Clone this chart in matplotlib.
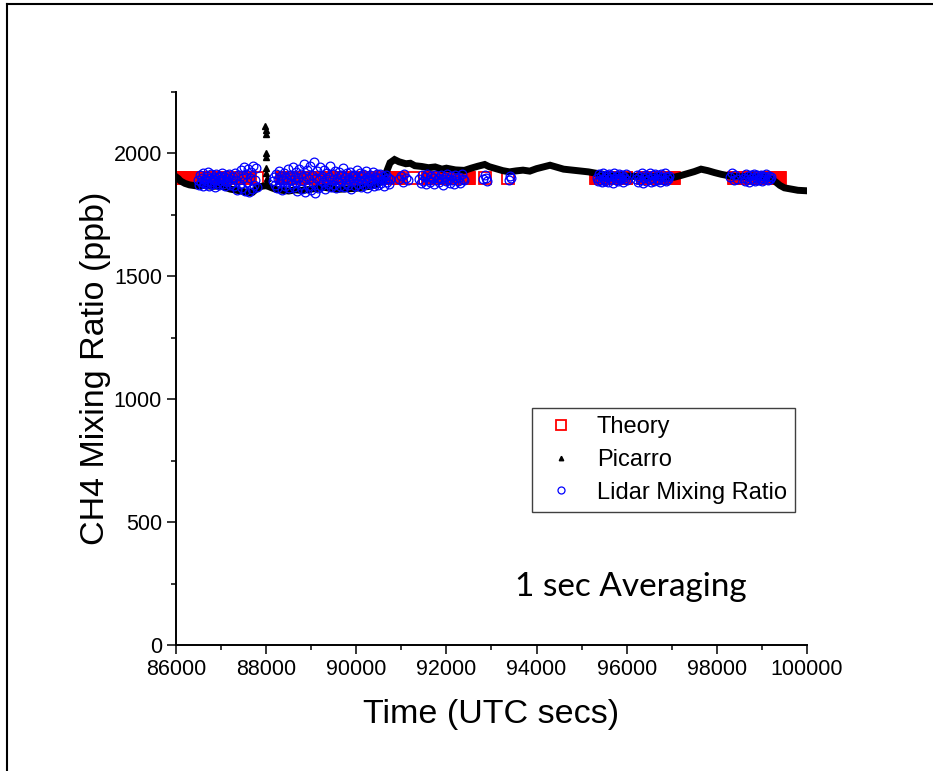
import numpy as np
import matplotlib
matplotlib.use('Agg')
from matplotlib import pyplot as plt
from matplotlib.lines import Line2D
from matplotlib.ticker import MultipleLocator

plt.rcParams['font.family'] = ['Liberation Sans', 'DejaVu Sans']

# Theory: constant mixing ratio, segments of 1 s averaged samples (start, end of each run)
theory_segments = [(86100, 87650), (87800, 87800), (88350, 90950), (91250, 91250),
                   (91600, 92500), (92850, 92850), (93370, 93370), (95330, 95990),
                   (96360, 97050), (98380, 99400)]
theory_value = 1900
theory_step = 15

# Picarro in-situ trace
picarro_t = [86000, 86050, 86100, 86200, 86300, 86450, 86600, 86800, 87000, 87100,
             87200, 87350, 87500, 87600, 87700, 87800, 87900, 88000, 88100, 88200,
             88350, 88500, 88650, 88800, 89000, 89150, 89300, 89450, 89600, 89800,
             90000, 90150, 90300, 90450, 90550, 90650, 90750, 90850, 90950, 91100,
             91200, 91300, 91450, 91600, 91750, 91900, 92000, 92200, 92400, 92550,
             92700, 92850, 92950, 93100, 93250, 93400, 93550, 93700, 93850, 94000,
             94150, 94300, 94450, 94600, 94800, 95000, 95150, 95300, 95450, 95600,
             95800, 96000, 96250, 96500, 96700, 96900, 97050, 97200, 97350, 97500,
             97650, 97800, 97950, 98100, 98300, 98500, 98800, 99000, 99200, 99300,
             99400, 99500, 99650, 99800, 100000]
picarro_v = [1905, 1898, 1888, 1878, 1872, 1868, 1870, 1866, 1868, 1862,
             1855, 1850, 1845, 1840, 1842, 1858, 1866, 1870, 1862, 1855,
             1850, 1847, 1852, 1849, 1855, 1858, 1862, 1857, 1854, 1856,
             1858, 1863, 1866, 1872, 1885, 1915, 1962, 1975, 1966, 1958,
             1960, 1950, 1947, 1942, 1945, 1936, 1940, 1933, 1931, 1940,
             1948, 1955, 1946, 1938, 1930, 1925, 1929, 1932, 1928, 1938,
             1945, 1952, 1944, 1936, 1932, 1928, 1925, 1920, 1916, 1912,
             1910, 1908, 1906, 1904, 1908, 1905, 1903, 1910, 1918, 1926,
             1936, 1930, 1922, 1915, 1908, 1905, 1908, 1903, 1898, 1885,
             1870, 1860, 1855, 1850, 1848]
# spike near 88000 s
spike_t = [87985, 87990, 87995, 88000, 88000, 88005, 88005, 88010, 88010, 88015]
spike_v = [2110, 2095, 2080, 2000, 1985, 1940, 1920, 1900, 1885, 1872]

# Lidar mixing ratio clusters: (start, end) times and values
lidar_clusters = [
    ((86500, 87200), [1893, 1871, 1912, 1885, 1902, 1866, 1919, 1880, 1897, 1874, 1908, 1889, 1924, 1869,
                      1900, 1883, 1915, 1877, 1895, 1906, 1862, 1891, 1918, 1879, 1903, 1870, 1910, 1887,
                      1898, 1921, 1875, 1893, 1905, 1868, 1914, 1882, 1899, 1886, 1916, 1873]),
    ((87250, 87800), [1880, 1905, 1868, 1920, 1893, 1852, 1911, 1876, 1932, 1860, 1899, 1945, 1848, 1915,
                      1884, 1938, 1843, 1902, 1926, 1857, 1950, 1871, 1890, 1942, 1865]),
    ((88150, 90750), [1886, 1903, 1872, 1915, 1860, 1897, 1928, 1878, 1909, 1851, 1893, 1920, 1867, 1901,
                      1884, 1935, 1858, 1912, 1890, 1874, 1946, 1863, 1905, 1882, 1925, 1847, 1899, 1938,
                      1870, 1918, 1856, 1888, 1958, 1843, 1907, 1931, 1866, 1896, 1950, 1852, 1913, 1880,
                      1965, 1840, 1902, 1927, 1861, 1891, 1944, 1869, 1910, 1885, 1933, 1855, 1898, 1922,
                      1876, 1906, 1948, 1864, 1892, 1917, 1873, 1930, 1859, 1900, 1883, 1924, 1868, 1911,
                      1889, 1940, 1862, 1904, 1879, 1919, 1871, 1896, 1926, 1857, 1909, 1887, 1914, 1866,
                      1901, 1934, 1875, 1893, 1921, 1863, 1907, 1882, 1916, 1870, 1898, 1928, 1860, 1903,
                      1886, 1912, 1874, 1895, 1923, 1867, 1905, 1881, 1918, 1872, 1900, 1915, 1878, 1892,
                      1908, 1869, 1897, 1911, 1884, 1902, 1876, 1894]),
    ((90950, 91150), [1895, 1910, 1885, 1915, 1900, 1890]),
    ((91400, 92400), [1896, 1880, 1912, 1889, 1905, 1874, 1917, 1893, 1884, 1908, 1899, 1877, 1914, 1890,
                      1902, 1883, 1911, 1895, 1872, 1906, 1888, 1918, 1897, 1881, 1909, 1892, 1876, 1913,
                      1900, 1886, 1904, 1879, 1915, 1894, 1890]),
    ((92820, 92900), [1895, 1912, 1900, 1888]),
    ((93380, 93440), [1893, 1908, 1900]),
    ((95350, 96000), [1901, 1886, 1917, 1893, 1908, 1882, 1920, 1897, 1889, 1912, 1903, 1884, 1915, 1895,
                      1907, 1881, 1922, 1899, 1890, 1910, 1887, 1918, 1902, 1894, 1913, 1885, 1905, 1898,
                      1916, 1891]),
    ((96200, 96950), [1897, 1912, 1885, 1906, 1893, 1919, 1881, 1902, 1914, 1889, 1908, 1895, 1921, 1883,
                      1900, 1911, 1887, 1917, 1898, 1890, 1909, 1884, 1915, 1903, 1892, 1920, 1886, 1905,
                      1896, 1910]),
    ((98300, 98450), [1905, 1922, 1890, 1912, 1898]),
    ((98600, 99200), [1902, 1889, 1915, 1896, 1908, 1884, 1912, 1900, 1893, 1918, 1887, 1905, 1911, 1891,
                      1899, 1914, 1886, 1907, 1895, 1903, 1916, 1890, 1909, 1897, 1904]),
]

theory_t = np.concatenate([np.arange(a, b + 1, theory_step) for a, b in theory_segments])
lidar_t = np.concatenate([np.linspace(a, b, len(v)) for (a, b), v in lidar_clusters])
lidar_v = np.concatenate([v for _, v in lidar_clusters])

fig = plt.figure(figsize=(9.33, 7.71), dpi=100)
ax = fig.add_axes([0.1886, 0.1634, 0.6763, 0.7173])

ax.plot(theory_t, np.full(len(theory_t), theory_value), 's', ms=8.6, mfc='none', mec='red',
        mew=1.3, label='Theory', zorder=2)
ax.plot(picarro_t, picarro_v, '-', color='black', lw=5, solid_joinstyle='miter', zorder=3)
ax.plot(spike_t, spike_v, '^', color='black', ms=4, label='Picarro', zorder=3)
ax.plot(lidar_t, lidar_v, 'o', ms=6.3, mfc='none', mec='blue', mew=0.9,
        label='Lidar Mixing Ratio', zorder=4)

ax.set_xlim(86000, 100000)
ax.set_ylim(0, 2250)
ax.xaxis.set_major_locator(MultipleLocator(2000))
ax.xaxis.set_minor_locator(MultipleLocator(1000))
ax.yaxis.set_major_locator(MultipleLocator(500))
ax.yaxis.set_minor_locator(MultipleLocator(250))
ax.spines['top'].set_visible(False)
ax.spines['right'].set_visible(False)
for s in ['left', 'bottom']:
    ax.spines[s].set_linewidth(1.4)
ax.tick_params(which='major', direction='out', length=6.5, width=1.1, labelsize=15.5)
ax.tick_params(which='minor', direction='out', length=3.6, width=1.1)

ax.set_xlabel('Time (UTC secs)', fontsize=24.5, labelpad=14)
ax.set_ylabel('CH4 Mixing Ratio (ppb)', fontsize=24.5, labelpad=2)

leg = ax.legend(loc='upper left', bbox_to_anchor=(0.564, 0.4286), fontsize=17,
                markerscale=0.8, handlelength=1.8, handletextpad=0.6, labelspacing=0.45,
                borderpad=0.35, fancybox=False, framealpha=1, borderaxespad=0)
leg.get_frame().set_edgecolor('#404040')
leg.get_frame().set_linewidth(1.0)

ax.text(0.721, 0.105, '1 sec Averaging', transform=ax.transAxes, fontsize=24,
        family='Lato', ha='center', va='center')

# screenshot border (top and left only)
fig.add_artist(Line2D([6.5 / 933, 1], [1 - 3.5 / 771, 1 - 3.5 / 771], color='black', lw=1.5))
fig.add_artist(Line2D([6.5 / 933, 6.5 / 933], [0, 1 - 3.5 / 771], color='black', lw=1.5))

fig.savefig('out.png', dpi=100)
